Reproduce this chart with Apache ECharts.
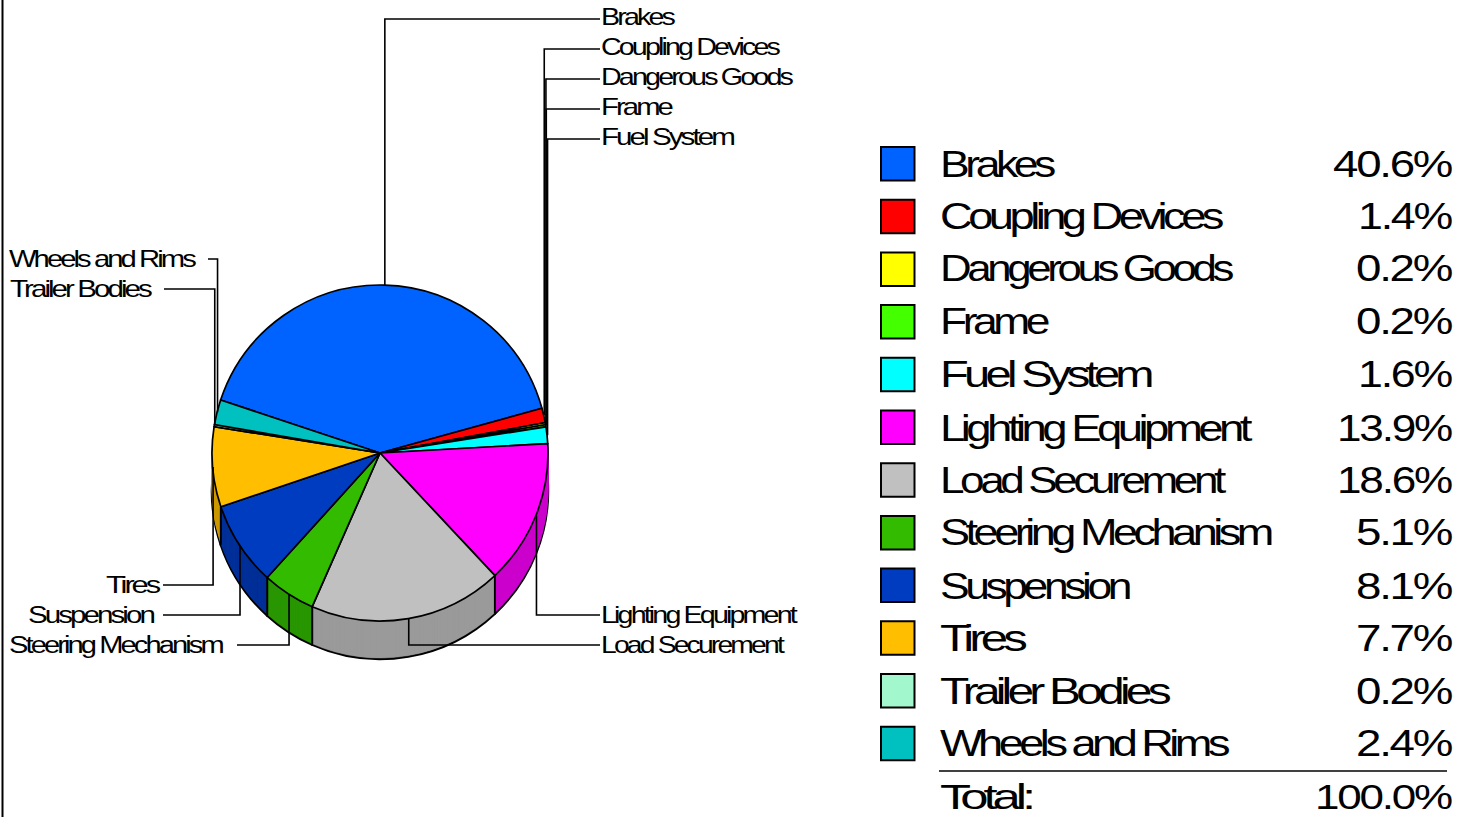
<!DOCTYPE html>
<html>
<head>
<meta charset="utf-8">
<style>
html,body{margin:0;padding:0;background:#fff;overflow:hidden}
#c{width:1470px;height:817px}
svg text{letter-spacing:-.1em}
svg text[text-anchor="end"]{letter-spacing:-.05em}
</style>
<script src="https://cdn.jsdelivr.net/npm/echarts@6/dist/echarts.min.js"></script>
</head>
<body>
<div id="c"></div>
<script>
const categories = ['Brakes','Coupling Devices','Dangerous Goods','Frame','Fuel System','Lighting Equipment','Load Securement','Steering Mechanism','Suspension','Tires','Trailer Bodies','Wheels and Rims'];
const shares = [40.6,1.4,0.2,0.2,1.6,13.9,18.6,5.1,8.1,7.7,0.2,2.4];
const shareLabels = ['40.6%','1.4%','0.2%','0.2%','1.6%','13.9%','18.6%','5.1%','8.1%','7.7%','0.2%','2.4%'];
const colors = ['#0063ff','#ff0000','#ffff00','#44ff00','#00ffff','#ff00ff','#c0c0c0','#33bb00','#003cbf','#ffbf00','#a3f7cc','#00c0c0'];
const totalLabel = 'Total:';
const totalValue = '100.0%';

// Layout (not data)
const CX = 380, CY = 453, R = 168, DEPTH = 38, FIRST_ANGLE = -71.6;
const labelSlots = [
  {side:'r',y:19,dy:-2,w:72},{side:'r',y:49,dy:-2,w:177},{side:'r',y:79,dy:-2,w:190},{side:'r',y:109,dy:-2,w:70},{side:'r',y:139,dy:-2,w:132},
  {side:'r',y:615,dy:0,w:194},{side:'r',y:645,dy:0,w:181},
  {side:'l',y:645,tx:9,lx:237,w:213},{side:'l',y:615,tx:28,lx:163,w:125},{side:'l',y:585,tx:106,lx:163,w:52},
  {side:'l',y:289,tx:10,lx:164,w:140},{side:'l',y:259,tx:9,lx:208,w:185}
];
const tableRowY = [164.5,216.5,268.5,321.5,374.5,428.5,480.5,532.5,586.5,638.5,691.5,743.5];
const tableNameW = [112,280,290,106,210,308,282,330,188,83,227,286];
const tableValueW = [118,93,95,95,93,114,114,95,95,95,95,95];

const measure = document.createElement('canvas').getContext('2d');
function fitScale(text,size,em,target){
  measure.font = size+'px "Liberation Sans"';
  const w = measure.measureText(text).width + text.length*size*em;
  return target/w;
}
function darker(hex){
  const n = parseInt(hex.slice(1),16);
  const f = v => Math.round(v*0.8);
  return `rgb(${f(n>>16&255)},${f(n>>8&255)},${f(n&255)})`;
}
const total = shares.reduce((a,b)=>a+b,0);
const toRad = d => d*Math.PI/180;
let cum = 0;
const slices = shares.map(v=>{
  const a0 = FIRST_ANGLE + cum/total*360;
  cum += v;
  const a1 = FIRST_ANGLE + cum/total*360;
  return {a0,a1,mid:(a0+a1)/2};
});

const series = [];
const pieBase = {
  type:'pie', radius:R, startAngle:90-FIRST_ANGLE, clockwise:true, silent:true,
  animation:false, avoidLabelOverlap:false, label:{show:false}, labelLine:{show:false},
  emphasis:{disabled:true}, minShowLabelAngle:360
};
for(let off=DEPTH; off>=1; off--){
  series.push(Object.assign({},pieBase,{
    center:[CX,CY+off], z:2,
    data:categories.map((n,i)=>({name:n,value:shares[i],itemStyle:{
      color:darker(colors[i]),
      borderColor:off===DEPTH?'#000':darker(colors[i]),
      borderWidth:off===DEPTH?2.5:0.5}}))
  }));
}
series.push(Object.assign({},pieBase,{
  center:[CX,CY], z:3,
  data:categories.map((n,i)=>({name:n,value:shares[i],itemStyle:{color:colors[i],borderColor:'#000',borderWidth:1.7}}))
}));

const g = [];
function poly(points,w){
  g.push({type:'polyline',z:50,silent:true,shape:{points},style:{stroke:'#000',fill:'none',lineWidth:w||1.6}});
}
function txt(text,x,y,size,align,target){
  const sx = fitScale(text,size,align==='right'?-0.05:-0.1,target);
  g.push({type:'text',z:60,silent:true,x,y,scaleX:sx,style:{text,x:0,y:0,fontSize:size,fontFamily:'"Liberation Sans"',fill:'#000',align,verticalAlign:'middle'}});
}
// frame line at left
g.push({type:'rect',z:50,silent:true,shape:{x:1.5,y:0,width:2,height:817},style:{fill:'#000'}});

// side-face dividers, from slice boundaries on the front half
slices.forEach(s=>{
  const c = Math.cos(toRad(s.a1));
  if(c<-0.02){
    const x = CX+R*Math.sin(toRad(s.a1)), y = CY-R*c;
    poly([[x,y],[x,y+DEPTH]],2);
  }
});
// Leader lines + labels
categories.forEach((name,i)=>{
  const sl = labelSlots[i], m = toRad(slices[i].mid);
  const ax = CX+0.5+R*Math.sin(m), ay = CY-R*Math.cos(m);
  if(sl.side==='r'){
    poly([[ax,ay],[ax,sl.y],[600,sl.y]]);
    txt(name,601,sl.y+sl.dy,23,'left',sl.w);
  } else {
    poly([[ax,ay],[ax,sl.y],[sl.lx,sl.y]]);
    txt(name,sl.tx,sl.y,23,'left',sl.w);
  }
});
// Legend table
categories.forEach((name,i)=>{
  const y = 164+52.7*i;
  g.push({type:'rect',z:50,silent:true,shape:{x:881,y:y-17,width:33.5,height:33.5},style:{fill:colors[i],stroke:'#000',lineWidth:2}});
  txt(name,940,tableRowY[i],36.5,'left',tableNameW[i]);
  txt(shareLabels[i],1451,tableRowY[i],36.5,'right',tableValueW[i]);
});
poly([[939,771],[1447,771]],1.6);
txt(totalLabel,940,796.5,36,'left',91);
txt(totalValue,1451,796.5,36,'right',136);

const chart = echarts.init(document.getElementById('c'),null,{renderer:'svg',width:1470,height:817});
chart.setOption({animation:false,backgroundColor:'#fff',tooltip:{show:false},series,graphic:{elements:g}});
</script>
</body>
</html>
